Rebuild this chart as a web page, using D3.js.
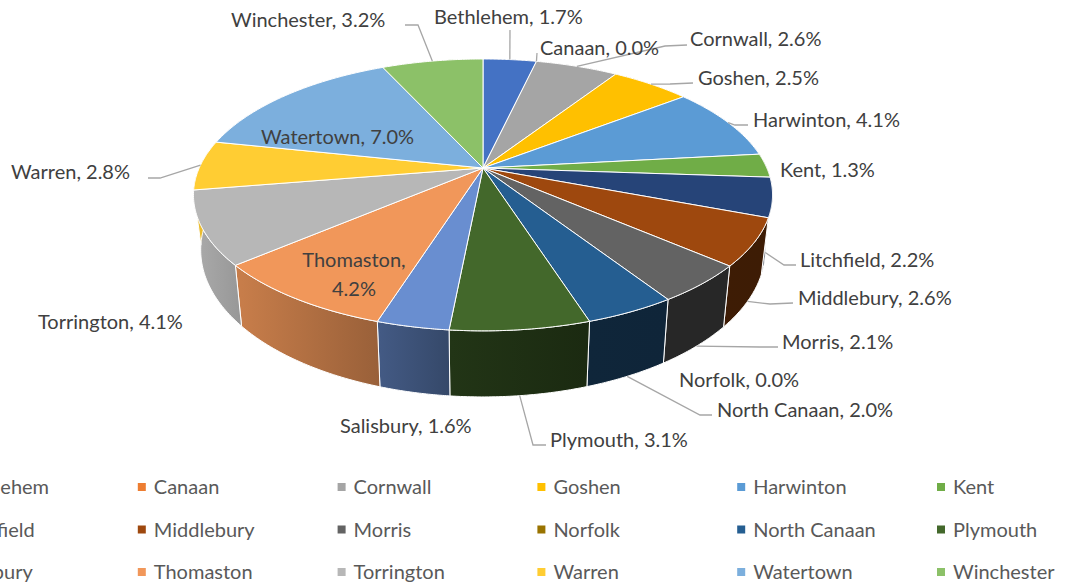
<!DOCTYPE html>
<html>
<head>
<meta charset="utf-8">
<script src="https://cdn.jsdelivr.net/npm/d3@7"></script>
<style>
  html, body { margin: 0; padding: 0; background: #fff; overflow: hidden; }
  text { font-family: Lato, "Open Sans", sans-serif; }
</style>
</head>
<body>
<div id="chart"></div>
<script>
// data (labels show one decimal)
const towns = ["Bethlehem", "Canaan", "Cornwall", "Goshen", "Harwinton", "Kent",
  "Litchfield", "Middlebury", "Morris", "Norfolk", "North Canaan", "Plymouth",
  "Salisbury", "Thomaston", "Torrington", "Warren", "Watertown", "Winchester"];
const shares = [1.71, 0, 2.64, 2.54, 4.14, 1.34,
  2.21, 2.64, 2.14, 0, 2.0, 3.06,
  1.59, 4.2, 4.1, 2.8, 7.04, 3.24];
const palette = ["#4472C4", "#ED7D31", "#A5A5A5", "#FFC000", "#5B9BD5", "#70AD47",
  "#264478", "#9E480E", "#636363", "#997300", "#255E91", "#43682B",
  "#698ED0", "#F1975A", "#B7B7B7", "#FFCD33", "#7CAFDD", "#8CC168"];

const width = 1071, height = 584;

// label layout: left edge + baseline of each label, plus leader elbow/end
const labelLayout = {
  "Bethlehem":    { x: 434, y: 24, leader: [[510, 30]] },
  "Canaan":       { x: 540, y: 55, leader: [[537, 53]] },
  "Cornwall":     { x: 690, y: 46, leader: [[665, 46], [687, 45]] },
  "Goshen":       { x: 698, y: 85, leader: [[670, 84], [693, 83]] },
  "Harwinton":    { x: 753, y: 127, leader: [[735, 125], [748, 125]] },
  "Kent":         { x: 780, y: 177 },
  "Litchfield":   { x: 800, y: 267, leader: [[784, 265], [796, 265]], rim: "bottom" },
  "Middlebury":   { x: 798, y: 305, leader: [[770, 304], [793, 303]], rim: "bottom" },
  "Morris":       { x: 782, y: 349, leader: [[760, 347], [778, 347]], rim: "bottom" },
  "Norfolk":      { x: 679, y: 387 },
  "North Canaan": { x: 717, y: 417, leader: [[700, 415], [712, 415]], rim: "bottom" },
  "Plymouth":     { x: 550, y: 447, leader: [[533, 445], [546, 445]], rim: "bottom" },
  "Salisbury":    { x: 340, y: 433 },
  "Thomaston":    { x: 354, y: 267, anchor: "middle", lines: 2 },
  "Torrington":   { x: 38, y: 329 },
  "Warren":       { x: 11, y: 179, leader: [[160, 178], [148, 178]] },
  "Watertown":    { x: 261, y: 144 },
  "Winchester":   { x: 231, y: 27, leader: [[418, 25], [405, 25]] }
};

const svg = d3.select("#chart").append("svg")
  .attr("width", width)
  .attr("height", height)
  .style("display", "block");
const defs = svg.append("defs");

const color = d3.scaleOrdinal().domain(towns).range(palette);

const pie = d3.pie().sort(null).value(d => d.share);
const slices = pie(towns.map((t, i) => ({ town: t, share: shares[i] })));

// the tilted disc: unit circle pushed through a perspective projection
const apex = { x: 483, y: 168 };
const discX = 283.8, discY = 130.6, tilt = 0.198, depth = 53, bottomShrink = 0.975;

function topPoint(a) {
  const ux = Math.sin(a), uy = -Math.cos(a), w = 1 - tilt * uy;
  return [apex.x + discX * ux / w, apex.y + discY * uy / w];
}
function bottomPoint(a) {
  const ux = Math.sin(a), uy = -Math.cos(a), w = 1 - tilt * uy;
  return [apex.x + bottomShrink * discX * ux / w, apex.y + (discY * uy + depth) / w];
}
function rim(fn, a0, a1) {
  return d3.range(0, 41).map(i => fn(a0 + (a1 - a0) * i / 40));
}
const line = d3.line();

// side brightness depends on where the wall faces
const deg = a => a * 180 / Math.PI;
const shade = d3.scaleLinear()
  .domain([0, 100, 165, 185, 200, 230, 260, 360])
  .range([.38, .38, .4, .5, .66, .83, .92, .92]);

// walls first, top faces paint over whatever is hidden
const walls = slices.filter(d => d.endAngle > d.startAngle);
walls.forEach((d, i) => {
  const base = d3.color(color(d.data.town));
  const tone = s => d3.rgb(base.r * s, base.g * s, base.b * s).formatHex();
  const g = defs.append("linearGradient")
    .attr("id", "wall" + i)
    .attr("gradientUnits", "userSpaceOnUse")
    .attr("x1", bottomPoint(d.startAngle)[0]).attr("y1", 0)
    .attr("x2", bottomPoint(d.endAngle)[0] + 0.01).attr("y2", 0);
  g.append("stop").attr("offset", 0).attr("stop-color", tone(shade(deg(d.startAngle))));
  g.append("stop").attr("offset", 1).attr("stop-color", tone(shade(deg(d.endAngle))));
});

svg.append("g").selectAll("path")
  .data(walls)
  .join("path")
  .attr("d", d => line(rim(topPoint, d.startAngle, d.endAngle)
    .concat(rim(bottomPoint, d.endAngle, d.startAngle))) + "Z")
  .attr("fill", (d, i) => `url(#wall${i})`)
  .attr("stroke", "#fff")
  .attr("stroke-width", 1)
  .attr("stroke-linejoin", "round");

svg.append("g").selectAll("path")
  .data(walls)
  .join("path")
  .attr("d", d => line([[apex.x, apex.y]].concat(rim(topPoint, d.startAngle, d.endAngle))) + "Z")
  .attr("fill", d => color(d.data.town))
  .attr("stroke", "#fff")
  .attr("stroke-width", 1)
  .attr("stroke-linejoin", "round");

// leader lines
const leaders = slices.filter(d => labelLayout[d.data.town].leader);
svg.append("g").selectAll("path")
  .data(leaders)
  .join("path")
  .attr("d", d => {
    const l = labelLayout[d.data.town];
    const mid = (d.startAngle + d.endAngle) / 2;
    const start = l.rim === "bottom" ? bottomPoint(mid) : topPoint(mid);
    return line([start].concat(l.leader));
  })
  .attr("fill", "none")
  .attr("stroke", "#a6a6a6")
  .attr("stroke-width", 1.3);

// data labels
const labels = svg.append("g").selectAll("text")
  .data(slices)
  .join("text")
  .attr("x", d => labelLayout[d.data.town].x)
  .attr("y", d => labelLayout[d.data.town].y)
  .attr("text-anchor", d => labelLayout[d.data.town].anchor || "start")
  .attr("fill", "#404040")
  .style("font-size", "20px");
labels.each(function(d) {
  const txt = `${d.data.town}, ${d.data.share.toFixed(1)}%`;
  const el = d3.select(this);
  if (labelLayout[d.data.town].lines === 2) {
    const parts = txt.split(" ");
    el.append("tspan").attr("x", labelLayout[d.data.town].x).text(parts[0]);
    el.append("tspan").attr("x", labelLayout[d.data.town].x).attr("dy", 29).text(parts[1]);
  } else {
    el.text(txt);
  }
});

// legend, first column runs off the left edge
const legendCol = d3.scaleLinear().domain([0, 5]).range([-62, 937]);
const legendRow = d3.scalePoint().domain([0, 1, 2]).range([494, 579]);
const legend = svg.append("g").selectAll("g")
  .data(towns)
  .join("g")
  .attr("transform", (d, i) => `translate(${legendCol(i % 6)},${legendRow(Math.floor(i / 6))})`);
legend.append("rect")
  .attr("y", -11)
  .attr("width", 8)
  .attr("height", 8)
  .attr("fill", d => color(d));
legend.append("text")
  .attr("x", 16)
  .attr("fill", "#595959")
  .style("font-size", "20px")
  .text(d => d);
</script>
</body>
</html>
